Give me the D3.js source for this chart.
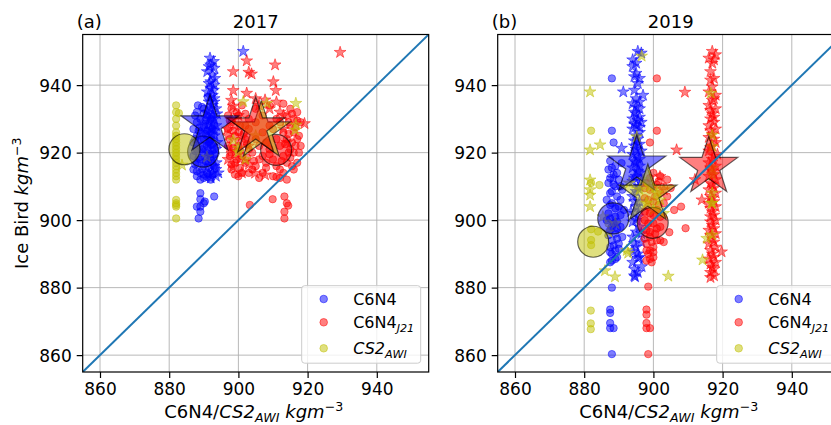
<!DOCTYPE html>
<html>
<head>
<meta charset="utf-8">
<script src="https://cdn.jsdelivr.net/npm/d3@7"></script>
<style>
  body { margin: 0; background: #fff; }
  text { font-family: "DejaVu Sans", sans-serif; fill: #000; }
</style>
</head>
<body>
<svg id="chart" width="831" height="425"></svg>
<script>
const axisDomain = [855, 955];
const tickValues = [860, 880, 900, 920, 940];
const seriesNames = ["C6N4", "C6N4_J21", "CS2_AWI"];
const seriesColors = ["#0000ff", "#ff0000", "#bfbf00"];

// ---- 2017 ----
const blueCircles17 = [[888.3,934],[891.2,936.5],[890,933],[888,932],[891,931],[889,930],[892,930],[888,929],[890,928],[893,928],[887,927],[889,926],[891,926.5],[888,925],[890,924],[892,924],[887,923],[889,922],[891,922],[893,921],[888,921],[890,920],[887,919],[889,918],[892,918],[888,917],[890,916],[893,916],[887,915],[889,914],[891,914],[888,913],[890,912.5],[892,912],[889,912],
  [889.5,933.5],[887.5,931],[890.5,929.5],[892.5,927],[888.5,926.5],[890.5,925.5],[887.5,924],[891.5,923],[889.5,921],[887.5,920.5],[891.5,919.5],[888.5,918.5],[890.5,917.5],[887.5,916.5],[891.5,915.5],[889.5,915],[888,914.5],[890,913.5],[891,912.8],[892.5,913.5],[893,919.5],[892,922.5],[890,931.5],[888.8,927.5],
  [888.5,900.5],[889,902.5],[889,904],[888,904],[890.3,905.5],[889,906.2],[890,905],[893,907],[889,908]];
const blueStars17 = [[891.8,948],[892,946],[893,945],[891,944],[892.5,943],[892,941],[893,940],[892,939],[891,938],[892.5,937],[893,936],[891.5,935],[892.5,934],[893.5,933],[891,932],[892.5,931],[893,930],[891.5,929],[893.5,928],[892,927],[891,926],[893,925],[891.5,924],[892.5,922],[893.5,921],[891,920],[892.5,918.5],[893.6,917],[892,916],[893.5,915],[892.5,914],[893.5,913],[892,912.5],[901.4,950],
  [892.8,947],[891.5,945.5],[893.2,942],[891.5,940.5],[892.8,938.5],[891.8,936.5],[893,935],[892,933],[893.8,931.5],[892.2,930],[891,928],[893,926.5],[892.3,925.5],[893.8,923],[891.2,922.5],[892,919.5],[893,916],[891.2,917.5],[894.2,914],[891.5,913.5]];
const redCircles17 = [[898,933],[901,934],[905,933],[909,934],[913,934.5],[915,933],[917,932],[897,931],[900,931],[903,930],[907,931],[911,930],[914,931],[916,930],[898,929],[902,928],[905,929],[909,928],[912,929],[915,928],[918,929],[897,927],[900,926],[903,927],[907,926],[910,927],[913,926],[916,926],[899,925],[902,924],[905,924],[908,923],[911,924],[914,924],[917,924],[897,922],[900,922],[903,921],[906,922],[909,921],[912,922],[915,921],[918,922],[898,920],[901,919],[904,920],[907,919],[910,918],[913,919],[916,920],[899,917],[902,917],[905,916],[908,917],[911,916],[914,917],[917,917],[898,915],[901,914],[904,915],[907,914],[910,913],[913,914],[916,915],
  [899.5,932],[902,931.5],[897.5,929.5],[900.5,928],[898.5,926.5],[901.5,925.5],[897.5,924],[900,923.5],[902.5,922.5],[898.5,921.5],[900.5,920.5],[897.5,919],[899.5,918],[902.5,918.5],[898,916.5],[900.5,915.5],[903,914],[899,913.5],[915.5,931.5],[917,929.5],[914.5,929],[916.5,927.5],[914.5,925.5],[917.5,925],[915.5,923],[913.5,922.5],[916.5,922],[914.5,920],[917.5,920],[915,918.5],[912.5,917.5],[915.5,916],[912,915],[906,918],[909,919.5],[908,915.5],[904.5,917.5],[911,912.8],
  [900,913],[906,912.5],[912,912.5],[914,912],[913.3,907],[914,905],[914.4,904.3],[913.3,902.5],[913.3,900.5],[909.9,906.2],[903.3,904.5]];
const redStars17 = [[898.5,944],[902.4,947.2],[903.8,943.3],[903,943.8],[910.6,946],[910.1,941],[910.8,938.4],[898.5,938.4],[902.4,937.6],[907.7,935.6],[898.5,933.8],[919.1,928.6],[929.4,949.7],[901,914],[907.7,913.4],[904.8,913.9],[898.5,915.8],[900,931],[905,936],[909,933],[912,932],[899,928],[897,925],[903,922],[899,920],[897,918],[913,927],[914,923],[898,935.5],[901,925],
  [897.5,921.5],[898,930],[900.5,918],[903,916.5],[906,934],[911,935],[913,931],[896.8,927]];
const yellowCircles17 = [[882,934],[882,932],[882.8,931.7],[882,930],[882,928],[882,926],[882,925],[882,924],[882,923],[882,922],[882,921],[882,920],[882,919],[882,918],[882,917],[882,916],[882,915],[882,914],[882,913],[882,912],[882,906],[882,905],[882,904.5],[882,904],[882,900.5]];
const yellowStars17 = [[883.7,916.3],[890.9,918.7],[898.5,923.7],[900,920.2],[901.4,935.1],[908.2,934.6],[916.6,934.6],[916.6,928.2],[916.4,926.7],[900,921.3],[905,925],[902,918]];
const meanCircles17 = [[889.8,920.3],[910.9,920.8],[884.4,921]];
const meanStars17 = [[891.8,928.1],[905,927.5],[906.6,926.3]];

// ---- 2019 ----
const blueCircles19 = [[888,942],[888,926.5],[888.5,923],[890.8,916.9],[887.5,917.5],[889,916],[887,915],[888.5,913.5],[890,912],[887,911],[889,910],[891,909],[887.5,908],[889.5,907],[886.5,906],[888,905],[890,904],[891.5,903],[887,902],[889,901],[886.5,900],[888.5,899],[890.5,898],[887.5,897],[889,896],[891,895],[888,894],[890,893],[887.5,892],[889,891],[888,890],[889.5,889],[888,888],[887.5,887.5],
  [888,915.5],[889.5,914],[887.5,912.5],[888.5,910.5],[890.5,910],[888,908.5],[890.5,906],[887.5,904.5],[889,903.5],[890.5,901.5],[887.5,900.5],[889.5,899.5],[888,898],[889.5,897.5],[887,895.5],[889.5,894.5],[888.5,892.5],[890,891.5],[887.5,890.5],[889,888.5],
  [888,880],[887.5,873.5],[887.5,872.5],[887.5,869.5],[887.5,868],[888.5,868],[888,860.3]];
const blueStars19 = [[895.5,950],[896.5,949.5],[894,947.5],[894,945.5],[895,943.5],[894.5,942.5],[896,942],[891.3,938],[897,937],[895,936],[894,934.5],[896,933],[895,931.5],[894,930],[896.5,929],[895,928],[894,927],[896,926],[895,925],[894.5,923.5],[896,922.5],[890.8,921.3],[895,921],[894,919.5],[896,918],[895,917],[894,915.5],[896,914],[895,913],[888.4,912.4],[894,911.5],[896,910],[895,908.5],[894,907],[896,905.5],[895,904],[893.5,902.5],[895.5,901],[894,899.5],[896,898],[895,896.5],[894,895],[896.5,893.5],[895,892],[894.2,890.6],[896,889],[895.6,888.7],[894.5,885.5],[896.6,886.2],[894.5,883.5],[894.7,883.2],
  [895,946.5],[895.5,940.5],[894.5,938.5],[896,935],[895,933.5],[894.5,932],[896,930.5],[895.5,929.5],[894.5,928.5],[896,927.5],[895.5,924],[894.5,922],[896.5,920.5],[895.5,919],[894.5,917.5],[896,916],[895.5,914.5],[894.5,912.5],[896.5,911.5],[895.5,909.5],[894.5,905.5],[896,903],[894.5,902],[895,900],[896.5,896],[894.5,893],[895.5,890],[894,887.5],[895.5,884.5]];
const redCircles19 = [[901,942],[901,926.5],[899,923],[900,914],[902,913],[904,912],[898,911],[901,910.5],[903,910],[905,909.5],[899,909],[902,908],[904,907],[897.5,906.5],[900,905.5],[903,905],[898.5,904],[901,903],[899,902],[902,901],[897.5,900],[900,899],[902,898],[898,897],[900.5,896],[899,895],[901,894],[898,893],[900,892],[899,891],[898.5,890],[900,889],[898,888],[899.5,887.5],[904.6,896.4],[909.3,897.6],[902,894],[903,893.5],[906,903],[908,904],
  [899,912.5],[901.5,911.5],[897.5,909.5],[900.5,907],[898.5,906],[901.5,904.5],[897.5,902.5],[900,901.5],[898.5,899],[901,897.5],[899,896.5],[897.5,894.5],[899.5,893.5],[898,891],[900,890.5],[899,888.5],
  [898.5,880.3],[898,873.5],[898,872],[898,869.5],[898,868],[899,868],[898.5,860.3]];
const redStars19 = [[917,950],[918,949],[916,948],[917,946.5],[917.5,942],[916.5,941.5],[916,938],[918,937],[917,935.5],[916,934],[918,933],[917,931.5],[916.5,930],[917.5,929],[916,928],[918,927],[917,925.5],[916,924.5],[918,923],[917,922],[916,920.5],[918.5,919.5],[917,918],[916,917],[918,916],[917,914.5],[916,913],[918,912],[917,910.5],[916,909],[918,908],[917,906.5],[916,905],[918,904],[917,902.5],[916.5,901],[918,900],[917,898.5],[916,897],[918,896],[917,894.5],[916,893],[918,892],[919.7,890.6],[917,890],[916,888.5],[918,887.5],[917,886],[916.5,884.5],[917.5,883.5],[916.5,883],
  [917.5,947.5],[916.5,944],[917,939.5],[917.5,936],[916.5,932.5],[917.5,930.5],[916.5,926.5],[917.5,924],[916.5,921.5],[917.5,919],[916.5,915.5],[917.5,913.5],[916.5,911],[917.5,909.5],[916.5,907],[917.5,905.5],[916.5,903.5],[917.5,901.5],[916.5,899.5],[917.5,897.5],[916.5,895.5],[917.5,893.5],[916.5,891],[917.5,889],[916.5,887],[917.5,885.5],
  [909.1,937.9],[906.7,920.8],[912,912],[901.9,912.9],[914,906],[900,910],[903,909]];
const yellowCircles19 = [[882,926.5],[882,911],[884.4,910.4],[887,899],[882,897.3],[884,896.6],[882,894.1],[882,892.6],[881.9,873.2],[881.9,869.4],[881.9,867.7]];
const yellowStars19 = [[881.7,938],[896.6,948.6],[884.6,922.3],[881.7,920.8],[881.7,911.9],[881.7,909],[881.7,907.4],[881.7,904],[885.4,901],[886,885],[888.9,883.2],[892.3,891],[892.7,890.2],[904.3,883.4],[914.2,888.2],[915.4,894.6],[916.8,905],[916.6,937.6],[917,925.2],[917,921.8],[917,915.4],[917,913.4],[917,908],[917,905],[917,895.6],[895.2,924.7],[897,912],[899,910],[901,908],[898,905],[900,903],[902,906],[896,909],[893,911],[887,896.5],[889,899],[903,902]];
const meanCircles19 = [[888.4,900.5],[899.8,899.2],[882.6,893.6]];
const meanStars19 = [[895.2,916.2],[916,915.8],[898.4,907.6]];

function starPath(R) {
  const r = R * 0.381966;
  const pts = [];
  for (let i = 0; i < 10; i++) {
    const a = -Math.PI / 2 + i * Math.PI / 5;
    const rr = i % 2 === 0 ? R : r;
    pts.push([rr * Math.cos(a), rr * Math.sin(a)]);
  }
  return "M" + pts.map((p) => p[0].toFixed(2) + "," + p[1].toFixed(2)).join("L") + "Z";
}

// appends a list of [text, style] pieces to a text node
function richText(sel, parts, size) {
  parts.forEach(([t, kind]) => {
    const ts = sel.append("tspan").text(t);
    if (kind === "i") ts.style("font-style", "italic");
    if (kind === "sub") ts.style("font-style", "italic").attr("font-size", size * 0.7).attr("dy", size * 0.22);
    if (kind === "back") ts.attr("dy", -size * 0.22);
    if (kind === "sup") ts.attr("font-size", size * 0.7).attr("dy", -size * 0.4);
  });
}

class ScatterPanel {
  constructor(svg, x0, letter, title, data, showYLabel) {
    this.svg = svg;
    this.x0 = x0;
    this.y0 = 34.5;
    this.w = 346;
    this.h = 337.5;
    this.letter = letter;
    this.title = title;
    this.data = data;
    this.showYLabel = showYLabel;
    this.x = d3.scaleLinear().domain(axisDomain).range([x0, x0 + this.w]);
    this.y = d3.scaleLinear().domain(axisDomain).range([this.y0 + this.h, this.y0]);
    this.draw();
  }

  draw() {
    const g = this.svg.append("g");
    const clipId = "clip" + this.letter;
    g.append("clipPath").attr("id", clipId)
      .append("rect").attr("x", this.x0).attr("y", this.y0).attr("width", this.w).attr("height", this.h);

    // grid
    const grid = g.append("g").attr("stroke", "#b0b0b0").attr("stroke-width", 0.9);
    tickValues.forEach((t) => {
      grid.append("line").attr("x1", this.x(t)).attr("x2", this.x(t)).attr("y1", this.y0).attr("y2", this.y0 + this.h);
      grid.append("line").attr("y1", this.y(t)).attr("y2", this.y(t)).attr("x1", this.x0).attr("x2", this.x0 + this.w);
    });

    const plot = g.append("g").attr("clip-path", "url(#" + clipId + ")");
    const d = this.data;
    // small markers
    [0, 1, 2].forEach((k) => {
      this.circles(plot, d.circles[k], seriesColors[k], 3.7, false);
      this.stars(plot, d.stars[k], seriesColors[k], 6.2, false);
    });
    // means: circles first, then stars (red star ends up on top of the yellow one)
    [0, 1, 2].forEach((k) => {
      this.circles(plot, [d.meanCircles[k]], seriesColors[k], 15.5, true);
    });
    [0, 2, 1].forEach((k) => {
      this.stars(plot, [d.meanStars[k]], seriesColors[k], 30.5, true);
    });

    // 1:1 line
    plot.append("line")
      .attr("x1", this.x(axisDomain[0])).attr("y1", this.y(axisDomain[0]))
      .attr("x2", this.x(axisDomain[1])).attr("y2", this.y(axisDomain[1]))
      .attr("stroke", "#1f77b4").attr("stroke-width", 2);

    // axes
    const xAxis = d3.axisBottom(this.x).tickValues(tickValues).tickSize(6).tickPadding(5);
    const yAxis = d3.axisLeft(this.y).tickValues(tickValues).tickSize(6).tickPadding(5);
    const gx = g.append("g").attr("transform", "translate(0," + (this.y0 + this.h) + ")").call(xAxis);
    const gy = g.append("g").attr("transform", "translate(" + this.x0 + ",0)").call(yAxis);
    [gx, gy].forEach((a) => {
      a.select(".domain").remove();
      a.selectAll(".tick line").attr("stroke", "#000").attr("stroke-width", 1.2);
      a.selectAll(".tick text").attr("font-size", 17).attr("font-family", "DejaVu Sans").attr("fill", "#000");
    });
    gy.selectAll(".tick text").attr("dy", "0.36em");

    g.append("rect").attr("x", this.x0).attr("y", this.y0).attr("width", this.w).attr("height", this.h)
      .attr("fill", "none").attr("stroke", "#000").attr("stroke-width", 1.2);

    // titles
    g.append("text").attr("x", this.x0 + this.w / 2).attr("y", 28).attr("text-anchor", "middle")
      .attr("font-size", 18).text(this.title);
    g.append("text").attr("x", this.x0 - 6).attr("y", 28).attr("font-size", 18).text("(" + this.letter + ")");

    // axis labels
    const xl = g.append("text").attr("x", this.x0 + this.w / 2 - 2).attr("y", 418).attr("text-anchor", "middle").attr("font-size", 18);
    richText(xl, [["C6N4/", ""], ["CS2", "i"], ["AWI", "sub"], [" ", "back"], ["kgm", "i"], ["\u22123", "sup"]], 18);
    if (this.showYLabel) {
      const yl = g.append("text").attr("transform", "translate(28," + (this.y0 + this.h / 2) + ") rotate(-90)")
        .attr("text-anchor", "middle").attr("font-size", 18);
      richText(yl, [["Ice Bird ", ""], ["kgm", "i"], ["\u22123", "sup"]], 18);
    }

    this.legend(g);
  }

  circles(sel, pts, color, r, big) {
    sel.append("g").selectAll("circle").data(pts).join("circle")
      .attr("cx", (p) => this.x(p[0])).attr("cy", (p) => this.y(p[1])).attr("r", r)
      .attr("fill", color).attr("fill-opacity", 0.5)
      .attr("stroke", big ? "#000" : color).attr("stroke-opacity", big ? 0.6 : 0.5)
      .attr("stroke-width", big ? 1.2 : 1);
  }

  stars(sel, pts, color, R, big) {
    sel.append("g").selectAll("path").data(pts).join("path")
      .attr("d", starPath(R))
      .attr("transform", (p) => "translate(" + this.x(p[0]) + "," + this.y(p[1]) + ")")
      .attr("fill", color).attr("fill-opacity", 0.5)
      .attr("stroke", big ? "#000" : color).attr("stroke-opacity", big ? 0.6 : 0.5)
      .attr("stroke-width", big ? 1.2 : 1).attr("stroke-linejoin", "miter");
  }

  legend(g) {
    const lw = 119, lh = 77.5;
    const lx = this.x0 + this.w - 8 - lw;
    const ly = 285.7;
    const lg = g.append("g");
    lg.append("rect").attr("x", lx).attr("y", ly).attr("width", lw).attr("height", lh)
      .attr("rx", 3).attr("fill", "#fff").attr("fill-opacity", 0.8).attr("stroke", "#cccccc").attr("stroke-width", 1);
    const rows = [13.3, 36.6, 62.6];
    const labels = [
      [["C6N4", ""]],
      [["C6N4", ""], ["J21", "sub"]],
      [["CS2", "i"], ["AWI", "sub"]],
    ];
    rows.forEach((dy, k) => {
      lg.append("circle").attr("cx", lx + 22).attr("cy", ly + dy).attr("r", 3.8)
        .attr("fill", seriesColors[k]).attr("fill-opacity", 0.5)
        .attr("stroke", seriesColors[k]).attr("stroke-opacity", 0.5);
      const t = lg.append("text").attr("x", lx + 51.5).attr("y", ly + dy + 6).attr("font-size", 16);
      richText(t, labels[k], 16);
    });
  }
}

const svg = d3.select("#chart");
new ScatterPanel(svg, 82.7, "a", "2017", {
  circles: [blueCircles17, redCircles17, yellowCircles17],
  stars: [blueStars17, redStars17, yellowStars17],
  meanCircles: meanCircles17,
  meanStars: meanStars17,
}, true);
new ScatterPanel(svg, 497.7, "b", "2019", {
  circles: [blueCircles19, redCircles19, yellowCircles19],
  stars: [blueStars19, redStars19, yellowStars19],
  meanCircles: meanCircles19,
  meanStars: meanStars19,
}, false);
</script>
</body>
</html>
